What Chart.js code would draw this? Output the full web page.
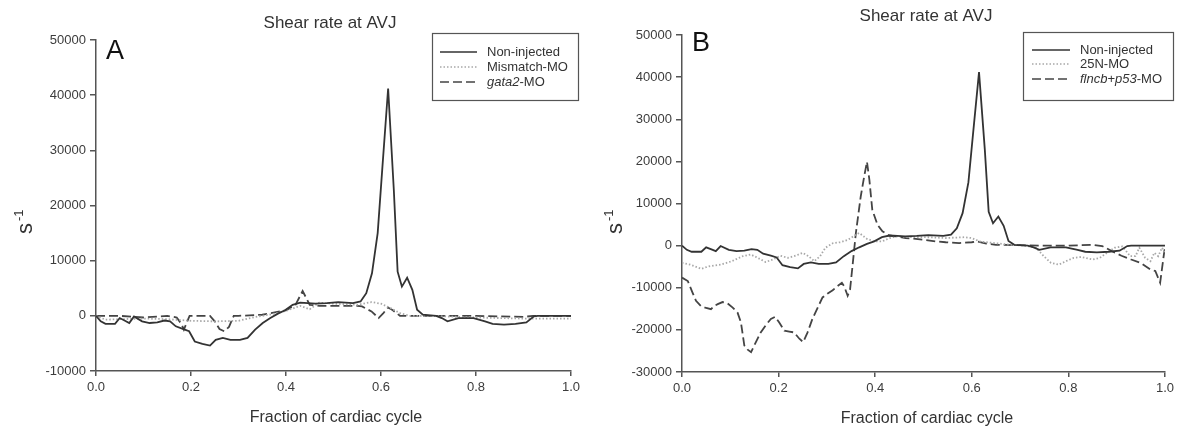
<!DOCTYPE html>
<html>
<head>
<meta charset="utf-8">
<script src="https://cdn.jsdelivr.net/npm/chart.js@4"></script>
<style>
  body { margin: 0; background: #fff; }
  #wrap { position: relative; width: 1178px; height: 434px; }
  #chartA { position: absolute; left: 0; top: 0; }
  #chartB { position: absolute; left: 590px; top: 0; }
</style>
</head>
<body>
<div id="wrap">
  <canvas id="chartA" width="590" height="434"></canvas>
  <canvas id="chartB" width="588" height="434"></canvas>
</div>
<script>
// Non-injected (mesma curva nos dois painéis)
const nonInjX = [0, 0.01, 0.02, 0.04, 0.05, 0.061, 0.07, 0.08, 0.097, 0.113, 0.129, 0.144, 0.156, 0.168, 0.184, 0.196, 0.208, 0.224, 0.24, 0.252, 0.267, 0.283, 0.303, 0.319, 0.335, 0.351, 0.367, 0.383, 0.398, 0.414, 0.43, 0.446, 0.462, 0.486, 0.51, 0.541, 0.557, 0.569, 0.581, 0.593, 0.603, 0.615, 0.627, 0.635, 0.644, 0.655, 0.666, 0.676, 0.688, 0.716, 0.728, 0.74, 0.763, 0.795, 0.819, 0.835, 0.859, 0.883, 0.906, 0.922, 0.93, 1.0];
const nonInjY = [0, -1000, -1450, -1450, -400, -900, -1300, -100, -1000, -1300, -1200, -850, -1000, -1900, -2400, -2800, -4650, -5100, -5400, -4350, -4000, -4350, -4350, -4000, -2500, -1300, -400, 400, 1000, 2000, 2400, 2300, 2200, 2300, 2500, 2300, 2600, 4100, 7700, 15000, 27000, 41200, 22800, 8000, 5300, 6900, 4700, 1100, 200, 0, -400, -1000, -400, -400, -1000, -1450, -1600, -1450, -1200, -100, 0, 0];

// Painel A
const mismatchX = [0, 0.02, 0.05, 0.1, 0.15, 0.2, 0.25, 0.3, 0.33, 0.37, 0.4, 0.43, 0.45, 0.47, 0.5, 0.55, 0.58, 0.6, 0.62, 0.64, 0.66, 0.7, 0.8, 0.9, 1.0];
const mismatchY = [0, -700, -600, -500, -600, -900, -1000, -900, -300, 300, 900, 1800, 1200, 2400, 2200, 2000, 2500, 2200, 1400, 500, 0, 0, -300, -500, -500];
const gata2X = [0, 0.05, 0.1, 0.15, 0.17, 0.18, 0.185, 0.197, 0.24, 0.25, 0.26, 0.27, 0.28, 0.29, 0.3, 0.35, 0.4, 0.42, 0.435, 0.45, 0.47, 0.55, 0.56, 0.58, 0.595, 0.605, 0.615, 0.625, 0.64, 0.65, 0.8, 0.9, 0.92, 1.0];
const gata2Y = [0, 0, -300, 0, -300, -1500, -2500, 0, 0, -1000, -2400, -2800, -2000, 0, 0, 200, 1000, 2000, 4500, 2000, 1800, 1800, 1700, 800, -400, 500, 1500, 1000, 0, 0, 0, -200, 0, 0];

// Painel B
const n25X = [0, 0.017, 0.04, 0.056, 0.08, 0.103, 0.126, 0.142, 0.157, 0.173, 0.188, 0.204, 0.219, 0.235, 0.25, 0.262, 0.274, 0.286, 0.297, 0.313, 0.328, 0.344, 0.36, 0.367, 0.383, 0.398, 0.414, 0.43, 0.445, 0.468, 0.507, 0.546, 0.585, 0.6, 0.616, 0.647, 0.679, 0.71, 0.733, 0.749, 0.764, 0.78, 0.795, 0.811, 0.826, 0.85, 0.865, 0.88, 0.896, 0.912, 0.928, 0.939, 0.947, 0.959, 0.97, 0.978, 0.986, 0.994, 1.0];
const n25Y = [-4100, -4500, -5500, -4900, -4500, -3700, -2500, -2100, -2900, -3900, -3300, -2400, -2900, -2400, -1700, -2500, -3700, -2500, -500, 600, 800, 1400, 2600, 3000, 1600, 1000, 1000, 1800, 2200, 2000, 2000, 1800, 2000, 1800, 1000, 600, 200, 0, -500, -2500, -4100, -4500, -3700, -2900, -2700, -3300, -2900, -1700, -500, -200, -2500, -2500, -500, -2900, -3700, -1700, -2500, -500, -1700];
const flncbX = [0, 0.012, 0.022, 0.029, 0.039, 0.05, 0.06, 0.067, 0.074, 0.084, 0.094, 0.105, 0.115, 0.122, 0.129, 0.136, 0.143, 0.153, 0.163, 0.174, 0.184, 0.193, 0.201, 0.212, 0.222, 0.232, 0.243, 0.251, 0.26, 0.27, 0.281, 0.291, 0.301, 0.312, 0.322, 0.331, 0.336, 0.343, 0.348, 0.353, 0.36, 0.37, 0.377, 0.383, 0.388, 0.394, 0.405, 0.415, 0.429, 0.443, 0.463, 0.484, 0.505, 0.526, 0.546, 0.574, 0.6, 0.61, 0.63, 0.65, 0.7, 0.75, 0.8, 0.85, 0.87, 0.89, 0.91, 0.93, 0.95, 0.97, 0.98, 0.99, 1.0];
const flncbY = [-7600, -8400, -11200, -13100, -14300, -14800, -15100, -14300, -13900, -13400, -13700, -14700, -15900, -18200, -23700, -24700, -25300, -22900, -20600, -18800, -17400, -16900, -18200, -20200, -20400, -20600, -22100, -22900, -20600, -17400, -14700, -12300, -11400, -10600, -9600, -8800, -9700, -11900, -10400, -4900, 3000, 11600, 16300, 19900, 15600, 8500, 4900, 3400, 2400, 2200, 1800, 1600, 1300, 1000, 800, 600, 800, 1000, 500, 200, 100, 0, 0, 200, -100, -1300, -2400, -3300, -4100, -5700, -6000, -8800, -200];

const xTicks = [0, 0.2, 0.4, 0.6, 0.8, 1.0];

const fontName = '"Liberation Sans", Arial, sans-serif';
const styles = {
    solid: { color: '#333333', dash: [] },
    dotted: { color: '#a8a8a8', dash: [1.5, 2] },
    dashed: { color: '#444444', dash: [9, 4] }
};

function toPoints(xs, ys) {
    return xs.map((x, i) => ({ x: x, y: ys[i] }));
}

function makeDataset(label, xs, ys, style) {
    return {
        label: label,
        data: toPoints(xs, ys),
        borderColor: styles[style].color,
        borderDash: styles[style].dash,
        borderWidth: 1.8,
        pointRadius: 0,
        tension: 0,
        fill: false
    };
}

// Desenha título, letra do painel, rótulos dos eixos e legenda
function panelDecor(cfg) {
    return {
        id: 'decor',
        afterDraw(chart) {
            const ctx = chart.ctx;
            ctx.save();
            ctx.fillStyle = '#333';
            ctx.textBaseline = 'middle';
            ctx.textAlign = 'center';
            ctx.font = '17px ' + fontName;
            ctx.fillText('Shear rate at AVJ', cfg.titleX, cfg.titleY);
            ctx.font = '16px ' + fontName;
            ctx.fillText('Fraction of cardiac cycle', cfg.xTitleX, cfg.xTitleY);

            // letra do painel
            ctx.textAlign = 'left';
            ctx.textBaseline = 'alphabetic';
            ctx.fillStyle = '#111';
            ctx.font = '27px ' + fontName;
            ctx.fillText(cfg.letter, cfg.letterX, cfg.letterY);

            // s^-1
            ctx.fillStyle = '#333';
            ctx.save();
            ctx.translate(cfg.yTitleX, cfg.yTitleY);
            ctx.rotate(-Math.PI / 2);
            ctx.font = '22px ' + fontName;
            ctx.fillText('s', 0, 0);
            const sw = ctx.measureText('s').width;
            ctx.font = '13px ' + fontName;
            ctx.fillText('-1', sw + 2, -9);
            ctx.restore();

            // legenda
            const lg = cfg.legend;
            ctx.strokeStyle = '#555';
            ctx.lineWidth = 1.2;
            ctx.setLineDash([]);
            ctx.strokeRect(lg.x + 0.5, lg.y + 0.5, lg.w, lg.h);
            ctx.textBaseline = 'middle';
            chart.data.datasets.forEach((ds, i) => {
                const y = lg.rows[i];
                ctx.beginPath();
                ctx.strokeStyle = ds.borderColor;
                ctx.lineWidth = 1.5;
                ctx.setLineDash(ds.borderDash);
                ctx.moveTo(lg.lineX0, y);
                ctx.lineTo(lg.lineX1, y);
                ctx.stroke();
                ctx.setLineDash([]);
                let tx = lg.textX;
                ctx.fillStyle = '#333';
                lg.labels[i].forEach(part => {
                    ctx.font = (part[1] ? 'italic ' : '') + '13px ' + fontName;
                    ctx.fillText(part[0], tx, y);
                    tx += ctx.measureText(part[0]).width;
                });
            });
            ctx.restore();
        }
    };
}

function makeChart(canvasId, datasets, yMin, yMax, box, decor) {
    const ctx = document.getElementById(canvasId).getContext('2d');
    return new Chart(ctx, {
        type: 'line',
        data: { datasets: datasets },
        options: {
            responsive: false,
            animation: false,
            events: [],
            layout: {
                padding: { left: 0, top: box.top, right: box.right, bottom: 0 }
            },
            plugins: {
                legend: { display: false },
                tooltip: { enabled: false }
            },
            scales: {
                x: {
                    type: 'linear',
                    min: 0,
                    max: 1,
                    afterFit(scale) { scale.height = box.xAxisH; },
                    afterBuildTicks(scale) { scale.ticks = xTicks.map(v => ({ value: v })); },
                    border: { color: '#555', width: 1.5 },
                    grid: { drawOnChartArea: false, drawTicks: true, tickLength: 5, color: '#555', lineWidth: 1.5 },
                    ticks: {
                        color: '#3c3c3c',
                        font: { family: fontName, size: 13 },
                        padding: 4,
                        maxRotation: 0,
                        callback: v => v.toFixed(1)
                    }
                },
                y: {
                    min: yMin,
                    max: yMax,
                    afterFit(scale) { scale.width = box.left; },
                    border: { color: '#555', width: 1.5 },
                    grid: { drawOnChartArea: false, drawTicks: true, tickLength: 6, color: '#555', lineWidth: 1.5 },
                    ticks: {
                        stepSize: 10000,
                        color: '#3c3c3c',
                        font: { family: fontName, size: 13 },
                        padding: 4,
                        callback: v => String(v)
                    }
                }
            }
        },
        plugins: [panelDecor(decor)]
    });
}

const chartA = makeChart('chartA', [
    makeDataset('Non-injected', nonInjX, nonInjY, 'solid'),
    makeDataset('Mismatch-MO', mismatchX, mismatchY, 'dotted'),
    makeDataset('gata2-MO', gata2X, gata2Y, 'dashed')
], -10000, 50000, { left: 96, top: 40, right: 19, xAxisH: 63 }, {
    letter: 'A', letterX: 106, letterY: 59,
    titleX: 330, titleY: 23,
    xTitleX: 336, xTitleY: 418,
    yTitleX: 32, yTitleY: 234,
    legend: {
        x: 432, y: 33, w: 146, h: 67,
        rows: [52, 67, 82], lineX0: 440, lineX1: 477, textX: 487,
        labels: [[['Non-injected', false]], [['Mismatch-MO', false]], [['gata2', true], ['-MO', false]]]
    }
});

const chartB = makeChart('chartB', [
    makeDataset('Non-injected', nonInjX, nonInjY, 'solid'),
    makeDataset('25N-MO', n25X, n25Y, 'dotted'),
    makeDataset('flncb+p53-MO', flncbX, flncbY, 'dashed')
], -30000, 50000, { left: 92, top: 35, right: 13, xAxisH: 62 }, {
    letter: 'B', letterX: 102, letterY: 51,
    titleX: 336, titleY: 16,
    xTitleX: 337, xTitleY: 419,
    yTitleX: 32, yTitleY: 234,
    legend: {
        x: 433, y: 32, w: 150, h: 68,
        rows: [50, 64, 79], lineX0: 442, lineX1: 480, textX: 490,
        labels: [[['Non-injected', false]], [['25N-MO', false]], [['flncb', true], ['+', false], ['p53', true], ['-MO', false]]]
    }
});
</script>
</body>
</html>
